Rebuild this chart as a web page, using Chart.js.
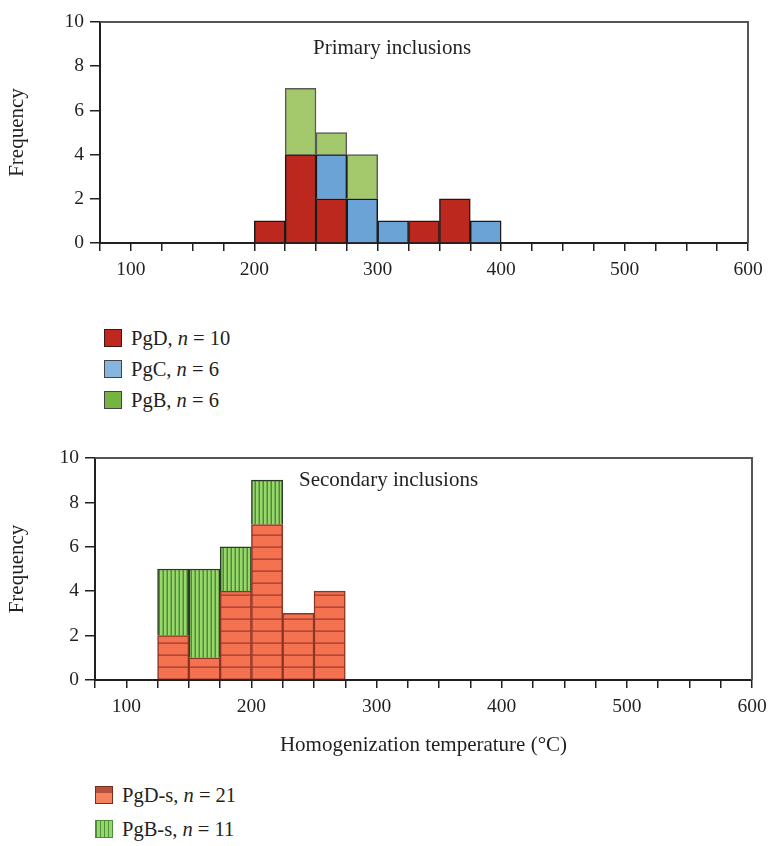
<!DOCTYPE html>
<html>
<head>
<meta charset="utf-8">
<script src="https://cdn.jsdelivr.net/npm/chart.js@4.4.1/dist/chart.umd.min.js"></script>
<style>
  body { margin: 0; background: #fff; width: 768px; height: 846px; position: relative; overflow: hidden;
         font-family: "Liberation Serif", serif; color: #231f20; }
  canvas { position: absolute; left: 0; }
  #top { top: 0; }
  #bottom { top: 440px; }
  .note { position: absolute; font-size: 21px; white-space: nowrap; }
  .row { position: absolute; height: 22px; display: flex; align-items: center; font-size: 20.5px; white-space: nowrap; }
  .sw { display: inline-block; width: 18px; height: 18px; margin-right: 9px; box-sizing: border-box; }
</style>
</head>
<body>
<canvas id="top" width="768" height="290"></canvas>
<canvas id="bottom" width="768" height="330"></canvas>
<div class="note" style="left:313px;top:35px">Primary inclusions</div>
<div class="note" style="left:299px;top:467px">Secondary inclusions</div>
<div id="legTop"></div>
<div id="legBottom"></div>
<script>
// histogram bins, 25 °C wide
const binWidth = 25;
const binsTop = [200, 225, 250, 275, 300, 325, 350, 375];
const pgD  = [1, 4, 2, 0, 0, 1, 2, 0];
const pgC  = [0, 0, 2, 2, 1, 0, 0, 1];
const pgB  = [0, 3, 1, 2, 0, 0, 0, 0];

const binsBottom = [125, 150, 175, 200, 225, 250];
const pgDs = [2, 1, 4, 7, 3, 4];
const pgBs = [3, 4, 2, 2, 0, 0];

const xLabels = [100, 200, 300, 400, 500, 600];
const yTicks = [0, 2, 4, 6, 8, 10];

const ink = '#231f20';
Chart.defaults.font.family = '"Liberation Serif", serif';
Chart.defaults.font.size = 19.5;
Chart.defaults.color = ink;

function points(bins, counts) {
  return bins.map((b, i) => ({ x: b + binWidth / 2, y: counts[i] || null }));
}
function total(arr) { return arr.reduce((a, b) => a + b, 0); }

function makePattern(kind) {
  const c = document.createElement('canvas');
  const g = c.getContext('2d');
  if (kind === 'h') {
    c.width = 8; c.height = 12;
    g.fillStyle = '#f4724f'; g.fillRect(0, 0, 8, 12);
    g.fillStyle = '#b5463a'; g.fillRect(0, 10.3, 8, 1.7);
  } else {
    c.width = 4; c.height = 8;
    g.fillStyle = '#98d86a'; g.fillRect(0, 0, 4, 8);
    g.fillStyle = '#4e8a3a'; g.fillRect(2.5, 0, 1.5, 8);
  }
  return g.createPattern(c, 'repeat');
}

// top + right border of the plot box
const frame = {
  id: 'frame',
  afterDraw(chart) {
    const a = chart.chartArea, ctx = chart.ctx;
    ctx.save();
    ctx.strokeStyle = '#555';
    ctx.lineWidth = 2;
    ctx.beginPath();
    ctx.moveTo(a.left, a.top);
    ctx.lineTo(a.right, a.top);
    ctx.lineTo(a.right, a.bottom);
    ctx.stroke();
    ctx.restore();
  }
};

function buildOptions(yWidth, xHeight, padding, xTitle) {
  return {
    responsive: false,
    animation: false,
    layout: { padding: padding },
    plugins: { legend: { display: false }, tooltip: { enabled: false } },
    scales: {
      x: {
        type: 'linear', min: 75, max: 600, stacked: true, offset: false,
        grid: { display: true, drawOnChartArea: false, drawTicks: true, tickLength: 8, color: ink, lineWidth: 1.5, offset: false },
        border: { display: true, color: ink, width: 2 },
        ticks: {
          stepSize: 25, autoSkip: false, maxRotation: 0, padding: 7,
          callback: v => xLabels.includes(v) ? String(v) : ''
        },
        title: xTitle ? { display: true, text: xTitle, font: { size: 21 }, padding: { top: 20, bottom: 12 } } : { display: false },
        afterFit: s => { s.height = xHeight; s.paddingLeft = 0; s.paddingRight = 0; }
      },
      y: {
        min: 0, max: 10, stacked: true,
        grid: { display: true, drawOnChartArea: false, drawTicks: true, tickLength: 10, color: ink, lineWidth: 1.5 },
        border: { display: true, color: ink, width: 2 },
        ticks: { stepSize: 2, padding: 6, callback: v => yTicks.includes(v) ? String(v) : '' },
        title: { display: true, text: 'Frequency', font: { size: 21 }, padding: { top: 5, bottom: 0 } },
        afterFit: s => { s.width = yWidth; }
      }
    }
  };
}

const barBase = { barPercentage: 1, categoryPercentage: 1, borderWidth: 1.5 };

const topSets = [
  { label: 'PgD', data: points(binsTop, pgD), backgroundColor: '#bd281e', borderColor: '#1a1a1a', ...barBase },
  { label: 'PgC', data: points(binsTop, pgC), backgroundColor: '#6ca3d6', borderColor: '#1a1a1a', ...barBase },
  { label: 'PgB', data: points(binsTop, pgB), backgroundColor: '#a3c96c', borderColor: '#5a5a5a', ...barBase }
];
new Chart(document.getElementById('top'), {
  type: 'bar',
  data: { datasets: topSets },
  options: buildOptions(100, 47, { top: 22, right: 20, left: 0, bottom: 0 }),
  plugins: [frame]
});

const bottomSets = [
  { label: 'PgD-s', data: points(binsBottom, pgDs), backgroundColor: makePattern('h'), borderColor: '#8a3626', ...barBase },
  { label: 'PgB-s', data: points(binsBottom, pgBs), backgroundColor: makePattern('v'), borderColor: '#2e3a28', ...barBase }
];
new Chart(document.getElementById('bottom'), {
  type: 'bar',
  data: { datasets: bottomSets },
  options: buildOptions(95, 90, { top: 18, right: 16, left: 0, bottom: 0 }, 'Homogenization temperature (°C)'),
  plugins: [frame]
});

// legends as text rows
const swatchCss = {
  'PgD': 'background:#c0271f;border:1px solid #3a1a14',
  'PgC': 'background:#86b5e0;border:1px solid #444',
  'PgB': 'background:#73b443;border:1px solid #444',
  'PgD-s': 'background:linear-gradient(#b5503a 0 40%, #f4825f 40%);border:1px solid #7a2e20',
  'PgB-s': 'background:repeating-linear-gradient(90deg,#4f8f3a 0 1.5px,#96d76a 1.5px 4px);border:1px solid #4f8f3a'
};
function legend(el, sets, counts, left, tops) {
  sets.forEach((s, i) => {
    const row = document.createElement('div');
    row.className = 'row';
    row.style.left = left + 'px';
    row.style.top = tops[i] + 'px';
    row.innerHTML = '<span class="sw" style="' + swatchCss[s.label] + '"></span>' +
      s.label + ',&nbsp;<i>n</i>&nbsp;=&nbsp;' + total(counts[i]);
    el.appendChild(row);
  });
}
legend(document.getElementById('legTop'), topSets, [pgD, pgC, pgB], 104, [327, 358, 389]);
legend(document.getElementById('legBottom'), bottomSets, [pgDs, pgBs], 95, [784, 818]);
</script>
</body>
</html>
